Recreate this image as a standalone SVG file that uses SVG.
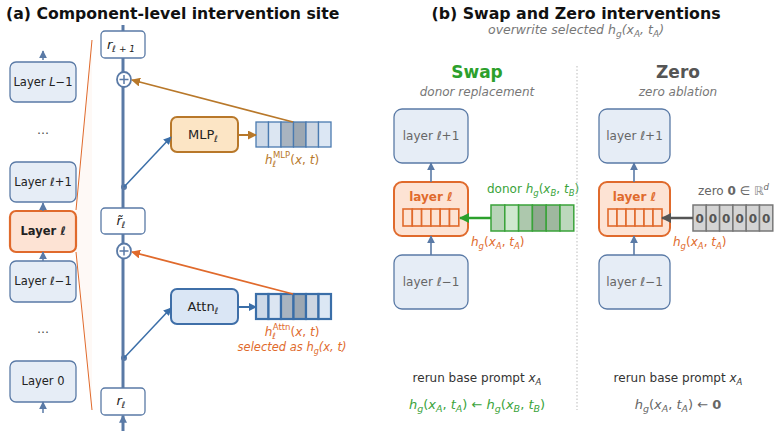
<svg xmlns="http://www.w3.org/2000/svg" width="780" height="435" viewBox="0 0 780 435">
<defs>
<style>
text{font-family:"DejaVu Sans","Liberation Sans",sans-serif;}
.title{font-weight:bold;fill:#111;}
.lbox{fill:#e6edf6;stroke:#5a7aa6;stroke-width:1.3;}
.lt{font-size:11.5px;fill:#222;text-anchor:middle;}
.it{font-style:italic;}
.rbox{fill:#fff;stroke:#5a7aa6;stroke-width:1.3;}
.sbox{fill:#e6edf6;stroke:#5a7aa6;stroke-width:1.3;}
.obox{fill:#fde3d4;stroke:#e06a2c;stroke-width:2;}
.gt{font-size:12px;fill:#666;text-anchor:middle;}
.cellO{fill:#fde3d4;stroke:#e06a2c;stroke-width:1.6;}
</style>
<marker id="aBlue" viewBox="0 0 10 10" refX="9" refY="5" markerWidth="8" markerHeight="8" markerUnits="userSpaceOnUse" orient="auto"><path d="M0,0 L10,5 L0,10 z" fill="#5a7aa6"/></marker>
<marker id="aBlue2" viewBox="0 0 10 10" refX="9" refY="5" markerWidth="8" markerHeight="8" markerUnits="userSpaceOnUse" orient="auto"><path d="M0,0 L10,5 L0,10 z" fill="#3a6ea8"/></marker>
<marker id="aBrown" viewBox="0 0 10 10" refX="9" refY="5" markerWidth="9" markerHeight="9" markerUnits="userSpaceOnUse" orient="auto"><path d="M0,0 L10,5 L0,10 z" fill="#b8782a"/></marker>
<marker id="aOrange" viewBox="0 0 10 10" refX="9" refY="5" markerWidth="9" markerHeight="9" markerUnits="userSpaceOnUse" orient="auto"><path d="M0,0 L10,5 L0,10 z" fill="#e06a2c"/></marker>
<marker id="aGreen" viewBox="0 0 10 10" refX="9" refY="5" markerWidth="10" markerHeight="10" markerUnits="userSpaceOnUse" orient="auto"><path d="M0,0 L10,5 L0,10 z" fill="#2ca02c"/></marker>
<marker id="aGray" viewBox="0 0 10 10" refX="9" refY="5" markerWidth="10" markerHeight="10" markerUnits="userSpaceOnUse" orient="auto"><path d="M0,0 L10,5 L0,10 z" fill="#555"/></marker>
</defs>
<rect width="780" height="435" fill="#fff"/>

<!-- Titles -->
<text class="title" x="6" y="19" font-size="15.7">(a)  Component-level intervention site</text>
<text class="title" x="576" y="19" font-size="15.8" text-anchor="middle">(b)  Swap and Zero interventions</text>
<text x="576" y="34" text-anchor="middle" font-size="12.5" font-style="italic" fill="#777">overwrite selected h<tspan font-size="9" dy="3">g</tspan><tspan dy="-3">(x</tspan><tspan font-size="9" dy="3">A</tspan><tspan dy="-3">, t</tspan><tspan font-size="9" dy="3">A</tspan><tspan dy="-3">)</tspan></text>

<!-- zoom wedge -->
<polygon points="76,210 92,40 92,410 76,252" fill="#fdeee6" opacity="0.35"/>
<g id="zoom-lines" stroke="#e06a2c" stroke-width="1" fill="none">
<line x1="76" y1="210" x2="92" y2="40"/>
<line x1="76" y1="252" x2="92" y2="410"/>
</g>

<!-- left column -->
<g id="layer-L-1"><rect class="lbox" x="10" y="62" width="66" height="40" rx="6"/><text class="lt" x="43" y="86">Layer <tspan class="it">L</tspan>−1</text></g>
<text x="43" y="134" font-size="12" fill="#444" text-anchor="middle">…</text>
<g id="layer-l+1"><rect class="lbox" x="10" y="162" width="66" height="40" rx="6"/><text class="lt" x="43" y="186">Layer <tspan class="it">ℓ</tspan>+1</text></g>
<g id="layer-l"><rect x="10" y="211" width="66" height="41" rx="6" fill="#fde3d4" stroke="#e06a2c" stroke-width="2.2"/><text class="lt" x="43" y="235" font-weight="bold">Layer <tspan class="it">ℓ</tspan></text></g>
<g id="layer-l-1"><rect class="lbox" x="10" y="261" width="66" height="41" rx="6"/><text class="lt" x="43" y="285">Layer <tspan class="it">ℓ</tspan>−1</text></g>
<text x="43" y="333" font-size="12" fill="#444" text-anchor="middle">…</text>
<g id="layer-0"><rect class="lbox" x="10" y="361" width="66" height="41" rx="6"/><text class="lt" x="43" y="385">Layer 0</text></g>

<!-- residual nodes -->
<g id="r-l+1"><rect class="rbox" x="101" y="31" width="44" height="27" rx="4"/><text x="121" y="49" font-size="13" font-style="italic" fill="#222" text-anchor="middle">r<tspan font-size="9" dy="3">ℓ + 1</tspan></text></g>
<g id="plus-mlp"><ellipse cx="124" cy="79.5" rx="7" ry="7.5" fill="#fff" stroke="#5a7aa6" stroke-width="1.8"/><path d="M119.5,79.5 H128.5 M124,75 V84" stroke="#5a7aa6" stroke-width="1.5"/></g>
<g id="r-tilde"><rect class="rbox" x="101" y="208" width="44" height="26" rx="4"/><text x="121" y="225" font-size="13" font-style="italic" fill="#222" text-anchor="middle">r̃<tspan font-size="9" dy="3">ℓ</tspan></text></g>
<g id="plus-attn"><ellipse cx="124" cy="251" rx="7" ry="7.5" fill="#fff" stroke="#5a7aa6" stroke-width="1.8"/><path d="M119.5,251 H128.5 M124,246.5 V255.5" stroke="#5a7aa6" stroke-width="1.5"/></g>
<g id="r-l"><rect class="rbox" x="101" y="388" width="44" height="27" rx="4"/><text x="121" y="405" font-size="13" font-style="italic" fill="#222" text-anchor="middle">r<tspan font-size="9" dy="3">ℓ</tspan></text></g>

<!-- MLP -->
<g id="mlp"><rect x="171" y="117" width="67" height="35" rx="6" fill="#fce5c5" stroke="#b8782a" stroke-width="2"/><text x="203" y="139" font-size="13" fill="#222" text-anchor="middle">MLP<tspan font-size="9" font-style="italic" dy="3">ℓ</tspan></text></g>
<g id="mlp-vec" stroke="#4a7ab0" stroke-width="1.3">
<rect x="256" y="122" width="12.5" height="25" fill="#cdd9e8"/>
<rect x="268.5" y="122" width="12.5" height="25" fill="#dce6f2"/>
<rect x="281" y="122" width="12.5" height="25" fill="#a9b4c0"/>
<rect x="293.5" y="122" width="12.5" height="25" fill="#9ca7b2"/>
<rect x="306" y="122" width="12.5" height="25" fill="#cdd6e2"/>
<rect x="318.5" y="122" width="12.5" height="25" fill="#dce7f4"/>
</g>
<text x="292" y="164" font-size="12" fill="#b8782a" text-anchor="middle"><tspan font-style="italic">h</tspan><tspan font-size="8.5" font-style="italic" dy="3">ℓ</tspan><tspan font-size="8.5" dx="-3" dy="-9">MLP</tspan><tspan dy="6">(</tspan><tspan font-style="italic">x</tspan>, <tspan font-style="italic">t</tspan>)</text>

<!-- Attn -->
<g id="attn"><rect x="171" y="289" width="67" height="35" rx="6" fill="#dae6f5" stroke="#3f6fa8" stroke-width="2"/><text x="203" y="311" font-size="13" fill="#222" text-anchor="middle">Attn<tspan font-size="9" font-style="italic" dy="3">ℓ</tspan></text></g>
<g id="attn-vec" stroke="#3a6ea8" stroke-width="2.2">
<rect x="256" y="294" width="12.5" height="25" fill="#cdd9e8"/>
<rect x="268.5" y="294" width="12.5" height="25" fill="#dce6f2"/>
<rect x="281" y="294" width="12.5" height="25" fill="#a9b4c0"/>
<rect x="293.5" y="294" width="12.5" height="25" fill="#9ca7b2"/>
<rect x="306" y="294" width="12.5" height="25" fill="#cdd6e2"/>
<rect x="318.5" y="294" width="12.5" height="25" fill="#dce7f4"/>
</g>
<text x="292" y="336" font-size="12" fill="#e06a2c" text-anchor="middle"><tspan font-style="italic">h</tspan><tspan font-size="8.5" font-style="italic" dy="3">ℓ</tspan><tspan font-size="8.5" dx="-3" dy="-9">Attn</tspan><tspan dy="6">(</tspan><tspan font-style="italic">x</tspan>, <tspan font-style="italic">t</tspan>)</text>
<text x="292" y="351" font-size="11.5" fill="#e06a2c" font-style="italic" text-anchor="middle">selected as h<tspan font-size="8" dy="3">g</tspan><tspan dy="-3">(x, t)</tspan></text>

<!-- Swap column -->
<text x="477" y="78" font-size="17" font-weight="bold" fill="#2ca02c" text-anchor="middle">Swap</text>
<text x="477" y="96" font-size="12" font-style="italic" fill="#777" text-anchor="middle">donor replacement</text>
<g id="swap-lp1"><rect class="sbox" x="394" y="109" width="74" height="54" rx="8"/><text class="gt" x="431" y="140">layer <tspan class="it">ℓ</tspan>+1</text></g>
<g id="swap-l"><rect class="obox" x="394" y="182" width="74" height="54" rx="8"/><text x="431" y="201" font-size="12" font-weight="bold" fill="#e06a2c" text-anchor="middle">layer <tspan class="it">ℓ</tspan></text>
<g class="cellO"><rect x="403" y="209" width="9.3" height="17"/><rect x="412.3" y="209" width="9.3" height="17"/><rect x="421.6" y="209" width="9.3" height="17"/><rect x="430.9" y="209" width="9.3" height="17"/><rect x="440.2" y="209" width="9.3" height="17"/><rect x="449.5" y="209" width="9.3" height="17"/></g></g>
<g id="swap-lm1"><rect class="sbox" x="394" y="255" width="74" height="54" rx="8"/><text class="gt" x="431" y="286">layer <tspan class="it">ℓ</tspan>−1</text></g>
<g id="donor-vec" stroke="#3aa33a" stroke-width="1.5">
<rect x="491" y="205" width="13.8" height="26" fill="#b8d4b8"/>
<rect x="504.8" y="205" width="13.8" height="26" fill="#cfe8cf"/>
<rect x="518.6" y="205" width="13.8" height="26" fill="#adc8ad"/>
<rect x="532.4" y="205" width="13.8" height="26" fill="#90a890"/>
<rect x="546.2" y="205" width="13.8" height="26" fill="#9fb89f"/>
<rect x="560" y="205" width="13.8" height="26" fill="#bcd8bc"/>
</g>
<text x="487" y="193" font-size="12" fill="#3aa33a">donor <tspan font-style="italic">h</tspan><tspan font-size="8.5" font-style="italic" dy="3">g</tspan><tspan dy="-3">(</tspan><tspan font-style="italic">x</tspan><tspan font-size="8.5" font-style="italic" dy="3">B</tspan><tspan dy="-3">, </tspan><tspan font-style="italic">t</tspan><tspan font-size="8.5" font-style="italic" dy="3">B</tspan><tspan dy="-3">)</tspan></text>
<text x="471" y="246" font-size="12" fill="#e06a2c"><tspan font-style="italic">h</tspan><tspan font-size="8.5" font-style="italic" dy="3">g</tspan><tspan dy="-3">(</tspan><tspan font-style="italic">x</tspan><tspan font-size="8.5" font-style="italic" dy="3">A</tspan><tspan dy="-3">, </tspan><tspan font-style="italic">t</tspan><tspan font-size="8.5" font-style="italic" dy="3">A</tspan><tspan dy="-3">)</tspan></text>
<text x="477" y="382" font-size="12" fill="#333" text-anchor="middle">rerun base prompt <tspan font-style="italic">x</tspan><tspan font-size="8.5" font-style="italic" dy="3">A</tspan></text>
<text x="477" y="409" font-size="13" fill="#3aa33a" text-anchor="middle"><tspan font-style="italic">h</tspan><tspan font-size="9.5" font-style="italic" dy="3">g</tspan><tspan dy="-3">(</tspan><tspan font-style="italic">x</tspan><tspan font-size="9.5" font-style="italic" dy="3">A</tspan><tspan dy="-3">, </tspan><tspan font-style="italic">t</tspan><tspan font-size="9.5" font-style="italic" dy="3">A</tspan><tspan dy="-3">)  ←  </tspan><tspan font-style="italic">h</tspan><tspan font-size="9.5" font-style="italic" dy="3">g</tspan><tspan dy="-3">(</tspan><tspan font-style="italic">x</tspan><tspan font-size="9.5" font-style="italic" dy="3">B</tspan><tspan dy="-3">, </tspan><tspan font-style="italic">t</tspan><tspan font-size="9.5" font-style="italic" dy="3">B</tspan><tspan dy="-3">)</tspan></text>

<!-- Zero column -->
<text x="678" y="78" font-size="17" font-weight="bold" fill="#555" text-anchor="middle">Zero</text>
<text x="678" y="96" font-size="12" font-style="italic" fill="#777" text-anchor="middle">zero ablation</text>
<g id="zero-lp1"><rect class="sbox" x="599" y="109" width="71" height="54" rx="8"/><text class="gt" x="634.5" y="140">layer <tspan class="it">ℓ</tspan>+1</text></g>
<g id="zero-l"><rect class="obox" x="599" y="182" width="71" height="54" rx="8"/><text x="634.5" y="201" font-size="12" font-weight="bold" fill="#e06a2c" text-anchor="middle">layer <tspan class="it">ℓ</tspan></text>
<g class="cellO"><rect x="608" y="209" width="9" height="17"/><rect x="617" y="209" width="9" height="17"/><rect x="626" y="209" width="9" height="17"/><rect x="635" y="209" width="9" height="17"/><rect x="644" y="209" width="9" height="17"/><rect x="653" y="209" width="9" height="17"/></g></g>
<g id="zero-lm1"><rect class="sbox" x="599" y="255" width="71" height="54" rx="8"/><text class="gt" x="634.5" y="286">layer <tspan class="it">ℓ</tspan>−1</text></g>
<g id="zero-vec" stroke="#777" stroke-width="1.5" fill="#d4d4d4">
<rect x="693" y="205" width="13.3" height="26"/>
<rect x="706.3" y="205" width="13.3" height="26"/>
<rect x="719.6" y="205" width="13.3" height="26"/>
<rect x="732.9" y="205" width="13.3" height="26"/>
<rect x="746.2" y="205" width="13.3" height="26"/>
<rect x="759.5" y="205" width="13.3" height="26"/>
</g>
<g font-size="12" font-weight="bold" fill="#555" text-anchor="middle">
<text x="699.7" y="222.5">0</text><text x="713" y="222.5">0</text><text x="726.3" y="222.5">0</text><text x="739.6" y="222.5">0</text><text x="752.9" y="222.5">0</text><text x="766.2" y="222.5">0</text>
</g>
<text x="698" y="195" font-size="12" fill="#666">zero <tspan font-weight="bold">0</tspan> ∈ <tspan fill="#888">ℝ</tspan><tspan font-size="8.5" font-style="italic" dy="-5">d</tspan></text>
<text x="673" y="246" font-size="12" fill="#e06a2c"><tspan font-style="italic">h</tspan><tspan font-size="8.5" font-style="italic" dy="3">g</tspan><tspan dy="-3">(</tspan><tspan font-style="italic">x</tspan><tspan font-size="8.5" font-style="italic" dy="3">A</tspan><tspan dy="-3">, </tspan><tspan font-style="italic">t</tspan><tspan font-size="8.5" font-style="italic" dy="3">A</tspan><tspan dy="-3">)</tspan></text>
<text x="678" y="382" font-size="12" fill="#333" text-anchor="middle">rerun base prompt <tspan font-style="italic">x</tspan><tspan font-size="8.5" font-style="italic" dy="3">A</tspan></text>
<text x="678" y="409" font-size="13" fill="#666" text-anchor="middle"><tspan font-style="italic">h</tspan><tspan font-size="9.5" font-style="italic" dy="3">g</tspan><tspan dy="-3">(</tspan><tspan font-style="italic">x</tspan><tspan font-size="9.5" font-style="italic" dy="3">A</tspan><tspan dy="-3">, </tspan><tspan font-style="italic">t</tspan><tspan font-size="9.5" font-style="italic" dy="3">A</tspan><tspan dy="-3">)  ←  </tspan><tspan font-weight="bold">0</tspan></text>

<!-- connectors -->
<g id="connectors" fill="none">
<line x1="43" y1="60" x2="43" y2="51" stroke="#5a7aa6" stroke-width="1.5" marker-end="url(#aBlue)"/>
<line x1="43" y1="211" x2="43" y2="203" stroke="#5a7aa6" stroke-width="1.5" marker-end="url(#aBlue)"/>
<line x1="43" y1="261" x2="43" y2="252" stroke="#5a7aa6" stroke-width="1.5" marker-end="url(#aBlue)"/>
<line x1="43" y1="413" x2="43" y2="402" stroke="#5a7aa6" stroke-width="1.5" marker-end="url(#aBlue)"/>
<g stroke="#5a7aa6" stroke-width="3">
<line x1="123" y1="25" x2="123" y2="31"/>
<line x1="123" y1="58" x2="123" y2="72"/>
<line x1="123" y1="87" x2="123" y2="208"/>
<line x1="123" y1="234" x2="123" y2="243.5"/>
<line x1="123" y1="258.5" x2="123" y2="388"/>
<line x1="123" y1="431" x2="123" y2="415.5" marker-end="url(#aBlue)"/>
</g>
<circle cx="124" cy="187" r="3" fill="#5a7aa6"/>
<circle cx="124" cy="358" r="3" fill="#5a7aa6"/>
<line x1="124" y1="187" x2="171" y2="137" stroke="#3a6ea8" stroke-width="1.5" marker-end="url(#aBlue2)"/>
<line x1="124" y1="358" x2="171" y2="308" stroke="#3a6ea8" stroke-width="1.5" marker-end="url(#aBlue2)"/>
<line x1="238" y1="135" x2="256" y2="135" stroke="#b8782a" stroke-width="2" marker-end="url(#aBrown)"/>
<line x1="238" y1="307" x2="256" y2="307" stroke="#3a6ea8" stroke-width="2" marker-end="url(#aBlue2)"/>
<line x1="293" y1="122" x2="132" y2="80" stroke="#b8782a" stroke-width="1.8" marker-end="url(#aBrown)"/>
<line x1="293" y1="294" x2="132" y2="252" stroke="#e06a2c" stroke-width="1.8" marker-end="url(#aOrange)"/>
<line x1="431" y1="182" x2="431" y2="163" stroke="#5a7aa6" stroke-width="1.6" marker-end="url(#aBlue)"/>
<line x1="431" y1="255" x2="431" y2="236" stroke="#5a7aa6" stroke-width="1.6" marker-end="url(#aBlue)"/>
<line x1="634" y1="182" x2="634" y2="163" stroke="#5a7aa6" stroke-width="1.6" marker-end="url(#aBlue)"/>
<line x1="634" y1="255" x2="634" y2="236" stroke="#5a7aa6" stroke-width="1.6" marker-end="url(#aBlue)"/>
<line x1="491" y1="218" x2="460" y2="218" stroke="#2ca02c" stroke-width="2.5" marker-end="url(#aGreen)"/>
<line x1="693" y1="218" x2="662" y2="218" stroke="#555" stroke-width="2.5" marker-end="url(#aGray)"/>
<line x1="577" y1="66" x2="577" y2="410" stroke="#bbb" stroke-width="1" stroke-dasharray="1.5,2"/>
</g>
</svg>
